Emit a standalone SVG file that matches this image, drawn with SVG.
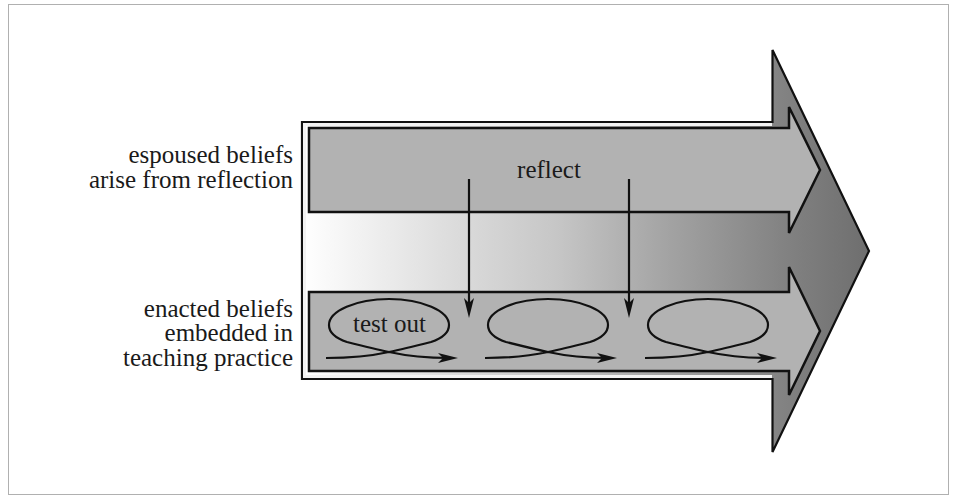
<svg xmlns="http://www.w3.org/2000/svg" width="956" height="499" viewBox="0 0 956 499">
  <defs>
    <linearGradient id="grad" gradientUnits="userSpaceOnUse" x1="302" y1="0" x2="870" y2="0">
      <stop offset="0" stop-color="#ffffff"/>
      <stop offset="0.25" stop-color="#dedede"/>
      <stop offset="0.45" stop-color="#c6c6c6"/>
      <stop offset="0.65" stop-color="#a2a2a2"/>
      <stop offset="0.85" stop-color="#828282"/>
      <stop offset="1" stop-color="#6e6e6e"/>
    </linearGradient>
    <marker id="ah" viewBox="0 0 20 10" refX="12" refY="5" markerWidth="20" markerHeight="10" markerUnits="userSpaceOnUse" orient="auto">
      <path d="M0,0 L20,5 L0,10 L5,5 Z" fill="#111"/>
    </marker>
    <style>
      text { font-size: 25px; fill: #1a1a1a; }
      .inner { fill: #b2b2b2; stroke: #111; stroke-width: 2.5; stroke-linejoin: miter; }
      .outer { fill: url(#grad); stroke: #111; stroke-width: 2.2; stroke-linejoin: miter; }
      .conn { fill: none; stroke: #111; stroke-width: 2.2; }
    </style>
    <path id="loop" d="M485,358 C505,358 530,356 548,352 C562,349 578,345 590,342 C602,338 608,332 608,325 C608,311 581,299 548,299 C515,299 488,311 488,325 C488,332 494,338 506,342 C518,345 534,349 548,352 C566,356 590,358 609,358"/>
  </defs>

  <rect x="8.5" y="4.5" width="940" height="490" fill="#ffffff" stroke="#b0b0b0" stroke-width="1"/>

  <g id="labels" font-family="'Liberation Serif', Tinos, 'Times New Roman', Times, serif">
    <text text-anchor="end" x="293" y="163">espoused beliefs</text>
    <text text-anchor="end" x="293" y="188">arise from reflection</text>
    <text text-anchor="end" x="293" y="317">enacted beliefs</text>
    <text text-anchor="end" x="293" y="341">embedded in</text>
    <text text-anchor="end" x="293" y="366">teaching practice</text>
  </g>

  <g id="outer-arrow">
    <path class="outer" d="M302,122 H772.5 V50 L869,251 L772.5,452 V379 H302 Z"/>
    <path d="M772,124.5 H304.5 V376.5 H772" fill="none" stroke="#f2f2f2" stroke-width="3"/>
  </g>

  <g id="espoused-arrow">
    <path class="inner" d="M309,128 H789 V107 L820,170 L789,233 V212 H309 Z"/>
    <text font-family="'Liberation Serif', Tinos, 'Times New Roman', Times, serif" text-anchor="middle" x="549" y="178">reflect</text>
  </g>

  <g id="enacted-arrow">
    <path class="inner" d="M309,292 H789 V267 L820,331 L789,395 V371 H309 Z"/>
  </g>

  <g id="loop1">
    <use href="#loop" class="conn" transform="translate(-159,0)" marker-end="url(#ah)"/>
    <text font-family="'Liberation Serif', Tinos, 'Times New Roman', Times, serif" text-anchor="middle" x="389.5" y="332">test out</text>
  </g>
  <g id="loop2">
    <use href="#loop" class="conn" marker-end="url(#ah)"/>
  </g>
  <g id="loop3">
    <use href="#loop" class="conn" transform="translate(160,0)" marker-end="url(#ah)"/>
  </g>

  <g id="connectors">
    <line class="conn" x1="469" y1="179" x2="469" y2="310" marker-end="url(#ah)"/>
    <line class="conn" x1="629" y1="179" x2="629" y2="310" marker-end="url(#ah)"/>
  </g>
</svg>
